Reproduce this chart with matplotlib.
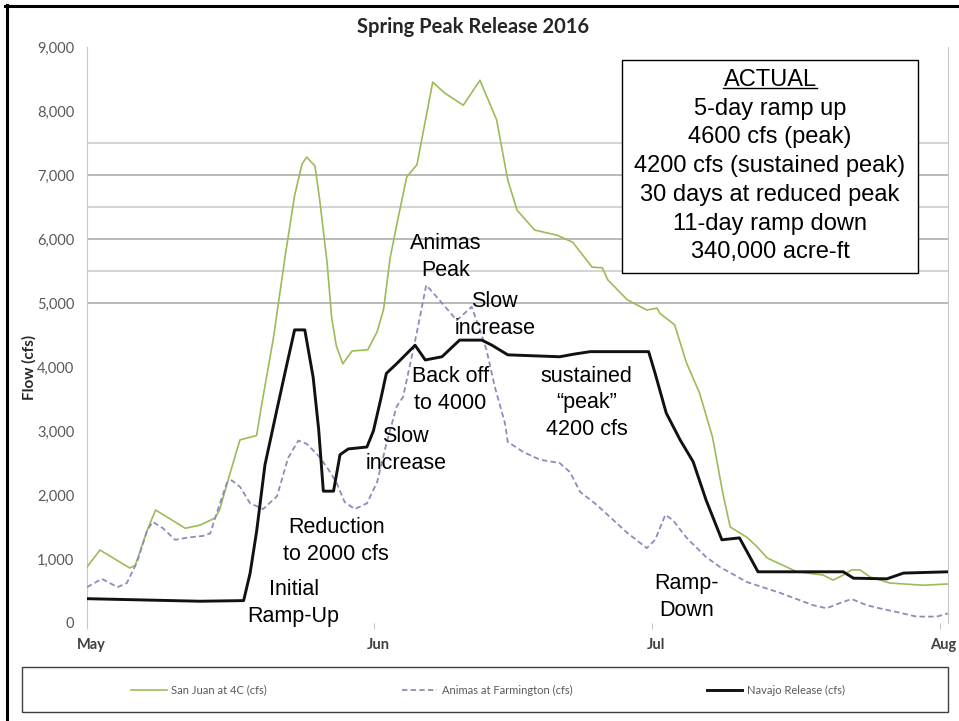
import matplotlib
matplotlib.use("Agg")
import matplotlib.pyplot as plt
from matplotlib.lines import Line2D
from matplotlib.patches import Rectangle
from matplotlib.transforms import ScaledTranslation, IdentityTransform

plt.rcParams['font.family'] = ['Lato', 'DejaVu Sans']

# days since May 1, flows in cfs
sj_day = [0, 1.4, 4.6, 5.2, 6.5, 7.4, 8.7, 10.6, 12.2, 13.8, 14.3, 15.4, 16.5, 18.3, 18.8,
          20.1, 21.4, 22.4, 23.2, 23.7, 24.6, 25.1, 25.9, 26.4, 26.9, 27.6, 28.6, 30.3, 31.3,
          32.0, 32.7, 33.6, 34.5, 35.6, 37.3, 38.6, 40.6, 42.4, 44.2, 45.4, 46.4, 48.3, 50.7,
          52.4, 54.5, 55.6, 56.2, 58.3, 60.4, 61.5, 61.8, 63.4, 64.7, 66.1, 67.5, 68.6, 69.4,
          71.2, 72.3, 73.4, 76.6, 79.4, 80.5, 81.6, 82.5, 83.4, 84.5, 86.6, 90.2, 92.9]
sj_cfs = [875, 1140, 860, 900, 1450, 1765, 1650, 1480, 1530, 1640, 1765, 2320, 2860, 2930, 3370,
          4440, 5750, 6680, 7170, 7280, 7140, 6620, 5640, 4770, 4330, 4050, 4250, 4270, 4550,
          4900, 5700, 6350, 6970, 7160, 8450, 8280, 8090, 8480, 7860, 6920, 6450, 6140, 6060,
          5950, 5560, 5550, 5360, 5050, 4890, 4920, 4840, 4660, 4060, 3590, 2900, 2030, 1500,
          1340, 1190, 1015, 800, 750, 670, 750, 830, 830, 720, 625, 590, 610]

an_day = [0, 1.6, 3.3, 4.3, 5.4, 6.5, 7.1, 8.2, 9.5, 11.1, 12.5, 13.3, 14.0, 15.1, 15.6, 16.5,
          17.6, 19.0, 20.5, 21.7, 22.8, 23.7, 25.0, 26.0, 26.9, 27.8, 28.9, 30.2, 31.3, 32.3,
          33.4, 34.1, 35.2, 35.7, 36.6, 37.7, 39.9, 41.5, 42.4, 43.1, 44.0, 45.1, 45.4, 47.1,
          48.9, 51.0, 52.1, 53.2, 54.8, 56.4, 58.2, 60.4, 61.3, 62.4, 63.2, 64.7, 66.8, 68.3,
          71.2, 74.8, 78.3, 79.8, 81.2, 82.5, 84.1, 85.5, 87.4, 89.5, 91.7, 92.9]
an_cfs = [560, 690, 560, 625, 950, 1450, 1580, 1480, 1300, 1340, 1360, 1400, 1720, 2190, 2230, 2130,
          1870, 1780, 1980, 2580, 2850, 2800, 2610, 2410, 2200, 1890, 1780, 1870, 2200, 2800,
          3380, 3530, 4270, 4620, 5280, 5100, 4730, 4940, 4580, 4270, 3690, 3120, 2830, 2670,
          2550, 2500, 2360, 2050, 1870, 1660, 1420, 1170, 1300, 1690, 1610, 1330, 1030, 875,
          640, 470, 280, 230, 310, 375, 280, 230, 170, 100, 100, 150]

nv_day = [0, 12.2, 16.9, 17.6, 18.3, 19.2, 20.5, 21.5, 22.4, 23.5, 24.4, 25.0, 25.5, 26.6, 27.3,
          28.2, 30.2, 30.9, 31.7, 32.3, 33.4, 35.4, 36.5, 38.3, 40.2, 42.6, 43.7, 45.4, 51.0,
          52.5, 54.3, 60.6, 61.3, 62.5, 64.0, 65.4, 66.8, 68.5, 70.4, 72.4, 81.6, 82.7, 86.3,
          88.1, 92.9]
nv_cfs = [380, 340, 350, 780, 1430, 2470, 3340, 4000, 4580, 4580, 3840, 3020, 2060, 2060, 2630,
          2720, 2750, 3000, 3500, 3900, 4050, 4340, 4110, 4160, 4420, 4420, 4340, 4190, 4160,
          4200, 4240, 4240, 3900, 3280, 2860, 2520, 1920, 1300, 1330, 800, 800, 700, 690,
          780, 800]

month_ticks = [0, 31, 61, 92]
month_labels = ["May", "Jun", "Jul", "Aug"]
y_ticks = list(range(0, 9001, 1000))
grid_levels = [5000, 5500, 6000, 6500, 7000, 7500]

notes = [
    (38.7, 5720, "Animas\nPeak"),
    (44.0, 4810, "Slow\nincrease"),
    (39.2, 3640, "Back off\nto 4000"),
    (34.4, 2700, "Slow\nincrease"),
    (26.9, 1280, "Reduction\nto 2000 cfs"),
    (22.3, 310, "Initial\nRamp-Up"),
    (53.9, 3440, "sustained\n\u201cpeak\u201d\n4200 cfs"),
    (64.7, 410, "Ramp-\nDown"),
]
box_title = "ACTUAL"
box_lines = ["5-day ramp up", "4600 cfs (peak)", "4200 cfs (sustained peak)",
             "30 days at reduced peak", "11-day ramp down", "340,000 acre-ft"]

W, H = 959, 721
fig = plt.figure(figsize=(W / 100, H / 100), dpi=100)
ax = fig.add_axes([87 / W, 1 - 623 / H, 861 / W, 576 / H])
ax.set_xlim(0, 92.9)
ax.set_ylim(0, 9000)

for g in grid_levels:
    c = '#a6a6a6' if g % 1000 == 0 else '#c8c8c8'
    ax.axhline(g, color=c, lw=1.1, zorder=1)

l1, = ax.plot(sj_day, sj_cfs, color='#9cbb58', lw=1.2, zorder=3)
l2, = ax.plot(an_day, an_cfs, color='#8c8cbc', lw=1.3, ls=(0, (3, 1.8)), zorder=3)
l3, = ax.plot(nv_day, nv_cfs, color='#111111', lw=2.1, zorder=4)

for s in ['top', 'bottom']:
    ax.spines[s].set_visible(False)
ax.spines['left'].set_color('#c8c8c8')
ax.spines['right'].set_color('#c8c8c8')

ax.set_yticks(y_ticks, ["{:,}".format(v) for v in y_ticks])
ax.tick_params(axis='y', length=0, pad=9, labelsize=10.5, labelcolor='#595959')
ax.set_xticks(month_ticks, month_labels)
ax.tick_params(axis='x', length=4, color='#c8c8c8', pad=7, labelsize=10.5, labelcolor='#404040')
for lab in ax.get_xticklabels():
    lab.set_fontweight('bold')
    lab.set_transform(lab.get_transform() + ScaledTranslation(4 / 100, 0, fig.dpi_scale_trans))

ax.set_ylabel("Flow (cfs)", fontsize=11, fontweight='bold', color='#262626')
ax.yaxis.set_label_coords(-0.059, 0.444)

for x, y, t in notes:
    ax.text(x, y, t, ha='center', va='center', fontsize=15.5, family='Liberation Sans',
            linespacing=1.35, zorder=6)

# info box
ax.add_patch(Rectangle((0.6214, 0.6076), 0.3438, 0.3698, transform=ax.transAxes,
                       facecolor='white', edgecolor='black', lw=1, zorder=5))
cx = 0.7933
step = 28.7 / 576
ttl = ax.text(cx, 0.9427, box_title, transform=ax.transAxes, ha='center', va='center',
              fontsize=17, family='Liberation Sans', zorder=6)
for i, line in enumerate(box_lines):
    ax.text(cx, 0.9427 - step * (i + 1), line, transform=ax.transAxes, ha='center',
            va='center', fontsize=17, family='Liberation Sans', zorder=6)

fig.text(473 / W, 1 - 27 / H, "Spring Peak Release 2016", ha='center', va='center',
         fontsize=14.5, fontweight='bold', color='#262626')

fig.legend([l1, l2, l3], ["San Juan at 4C (cfs)", "Animas at Farmington (cfs)",
                          "Navajo Release (cfs)"],
           loc='center', bbox_to_anchor=(488 / W, 1 - 690 / H), ncol=3, frameon=False,
           fontsize=8, handlelength=3.2, handletextpad=0.4, columnspacing=12.1,
           labelcolor='#595959')
fig.add_artist(Rectangle((22 / W, 1 - 712 / H), 926 / W, 45 / H, transform=fig.transFigure,
                         fill=False, edgecolor='#404040', lw=1))

# outer frame (top and left edges)
fig.add_artist(Line2D([5 / W, 1], [1 - 5.5 / H, 1 - 5.5 / H], transform=fig.transFigure,
                      color='black', lw=2.2))
fig.add_artist(Line2D([6.5 / W, 6.5 / W], [0, 1 - 5 / H], transform=fig.transFigure,
                      color='black', lw=2.2))

# underline ACTUAL
fig.canvas.draw()
bb = ttl.get_window_extent()
fig.add_artist(Line2D([bb.x0, bb.x1], [bb.y0 + 3, bb.y0 + 3], transform=IdentityTransform(),
                      color='black', lw=1))

fig.savefig("out.png", dpi=100)
